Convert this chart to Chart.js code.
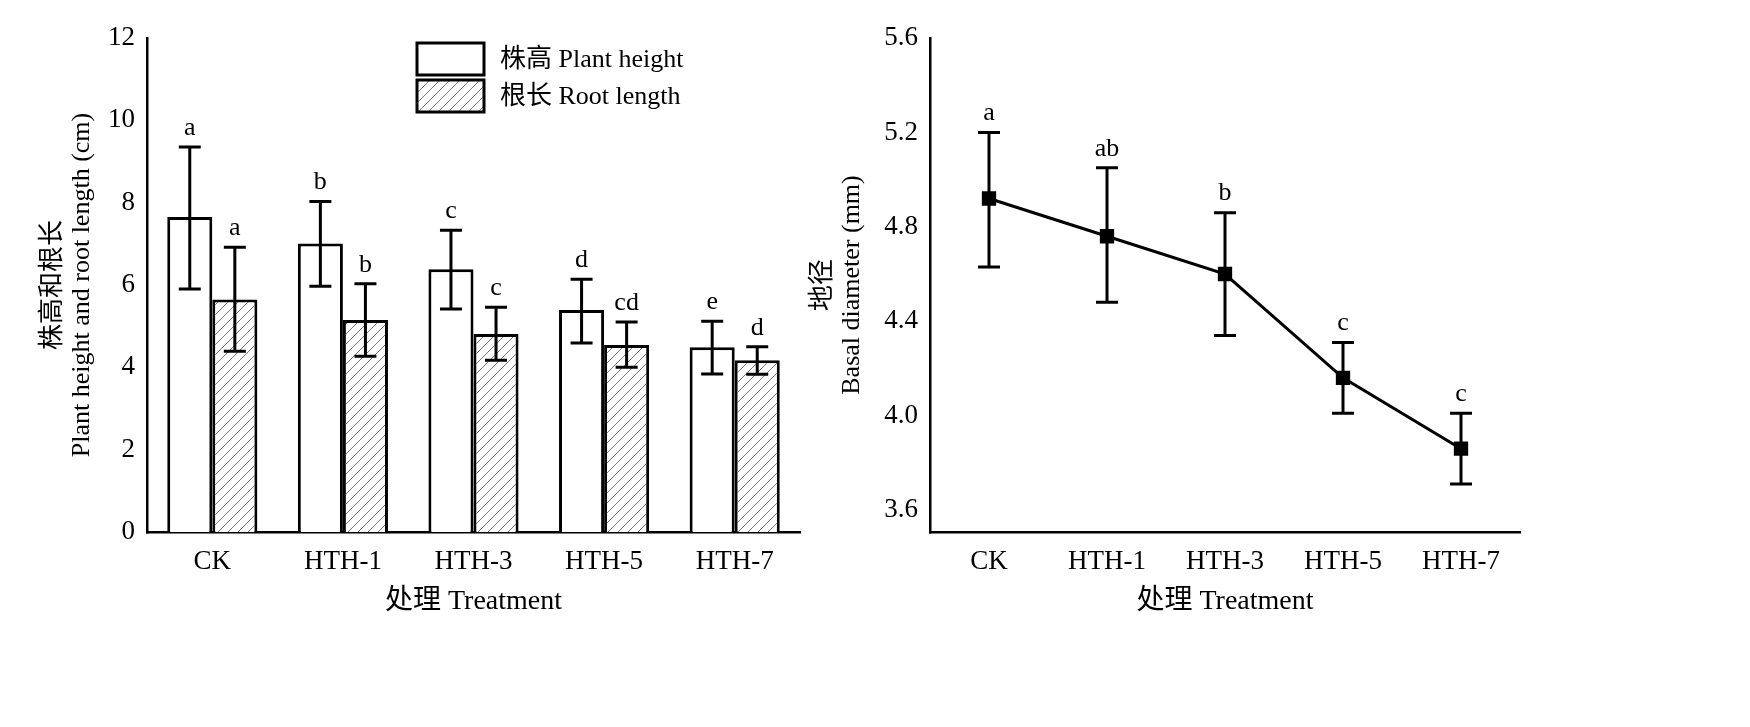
<!DOCTYPE html>
<html><head><meta charset="utf-8">
<script src="https://cdn.jsdelivr.net/npm/chart.js@4"></script>
<style>body{margin:0;background:#fff;width:1750px;height:727px;position:relative;overflow:hidden}
#c1{position:absolute;left:0;top:0}#c2{position:absolute;left:790px;top:0}</style>
</head><body>
<canvas id="c1" width="830" height="727"></canvas>
<canvas id="c2" width="960" height="727"></canvas>
<script>
const categories=["CK","HTH-1","HTH-3","HTH-5","HTH-7"];
const plantHeight=[7.65,7.01,6.38,5.39,4.49];
const plantHi=[9.35,8.03,7.33,6.14,5.12];
const plantLo=[5.9,5.97,5.42,4.59,3.84];
const plantLetters=["a","b","c","d","e"];
const rootLength=[5.65,5.15,4.81,4.54,4.17];
const rootHi=[6.92,6.03,5.46,5.1,4.5];
const rootLo=[4.39,4.27,4.17,4.0,3.83];
const rootLetters=["a","b","c","cd","d"];
const diameter=[4.92,4.76,4.60,4.16,3.86];
const diaHi=[5.20,5.05,4.86,4.31,4.01];
const diaLo=[4.63,4.48,4.34,4.01,3.71];
const diaLetters=["a","ab","b","c","c"];
const leftTicks=[0,2,4,6,8,10,12];
const rightTicks=[3.6,4.0,4.4,4.8,5.2,5.6];

const SERIF="'Liberation Serif','Times New Roman',serif";
const CJK="'Liberation Serif','Noto Sans CJK SC',serif";
Chart.defaults.font.family=CJK;Chart.defaults.color="#000";

function hatch(){const p=document.createElement('canvas');p.width=10;p.height=10;const g=p.getContext('2d');
g.fillStyle='#fff';g.fillRect(0,0,10,10);g.strokeStyle='#555';g.lineWidth=0.8;
g.beginPath();g.moveTo(0,10);g.lineTo(10,0);g.moveTo(-5,5);g.lineTo(5,-5);g.moveTo(5,15);g.lineTo(15,5);g.stroke();
return document.getElementById('c1').getContext('2d').createPattern(p,'repeat');}
const hp=hatch();

const errPlugin={id:'err',afterDatasetsDraw(chart){
  const ctx=chart.ctx,y=chart.scales.y;
  chart.data.datasets.forEach((ds,di)=>{const meta=chart.getDatasetMeta(di);
    meta.data.forEach((el,i)=>{const x=el.x,hi=y.getPixelForValue(ds.hi[i]),lo=y.getPixelForValue(ds.lo[i]);
      ctx.save();ctx.strokeStyle='#000';ctx.lineWidth=3;ctx.beginPath();
      ctx.moveTo(x,hi);ctx.lineTo(x,lo);ctx.moveTo(x-11,hi);ctx.lineTo(x+11,hi);ctx.moveTo(x-11,lo);ctx.lineTo(x+11,lo);ctx.stroke();
      ctx.fillStyle='#000';ctx.font="26px "+SERIF;ctx.textAlign='center';ctx.textBaseline='bottom';
      ctx.fillText(ds.letters[i],x,hi-6);ctx.restore();});});
}};
const legendPlugin={id:'leg',afterDraw(chart){const ctx=chart.ctx;ctx.save();
  const items=[["#fff","株高 Plant height"],[hp,"根长 Root length"]];
  items.forEach((it,k)=>{const y=43+k*37;ctx.fillStyle=it[0];ctx.fillRect(417,y,67,32);
    ctx.strokeStyle='#000';ctx.lineWidth=3;ctx.strokeRect(417,y,67,32);
    ctx.fillStyle='#000';ctx.font="26px "+CJK;ctx.textBaseline='middle';ctx.fillText(it[1],500,y+17);});
  ctx.restore();}};

const axisCommon={border:{color:'#000',width:2.5},grid:{display:false,drawOnChartArea:false,tickLength:8,color:'#000',lineWidth:2.5}};

new Chart(document.getElementById('c1'),{type:'bar',
 data:{labels:categories,datasets:[
  {data:plantHeight,hi:plantHi,lo:plantLo,letters:plantLetters,backgroundColor:'#fff',borderColor:'#000',borderWidth:3,borderSkipped:'bottom'},
  {data:rootLength,hi:rootHi,lo:rootLo,letters:rootLetters,backgroundColor:hp,borderColor:'#000',borderWidth:3,borderSkipped:'bottom'}]},
 options:{responsive:false,animation:false,layout:{padding:{top:38,right:30,left:35,bottom:105}},
  datasets:{bar:{categoryPercentage:0.69,barPercentage:1}},
  plugins:{legend:{display:false},tooltip:{enabled:false}},
  scales:{
   x:{...axisCommon,grid:{display:false},ticks:{font:{size:27,family:SERIF},padding:6},
      title:{display:true,text:'处理 Treatment',font:{size:28},padding:{top:14}},
      afterFit(s){s.height=90;}},
   y:{...axisCommon,min:0,max:12,afterBuildTicks(s){s.ticks=leftTicks.map(v=>({value:v}));},
      ticks:{font:{size:27,family:SERIF},padding:4},
      title:{display:true,text:['株高和根长','Plant height and root length (cm)'],font:{size:26,lineHeight:1.1},padding:{bottom:6}},
      afterFit(s){s.width=112;}}}},
 plugins:[errPlugin,legendPlugin]});

new Chart(document.getElementById('c2'),{type:'line',
 data:{labels:categories,datasets:[{data:diameter,hi:diaHi,lo:diaLo,letters:diaLetters,borderColor:'#000',borderWidth:3,
  pointStyle:'rect',pointRadius:8,pointBackgroundColor:'#000',pointBorderColor:'#000',tension:0}]},
 options:{responsive:false,animation:false,layout:{padding:{top:38,right:230,left:15,bottom:105}},
  plugins:{legend:{display:false},tooltip:{enabled:false}},
  scales:{
   x:{...axisCommon,offset:true,grid:{display:false},ticks:{font:{size:27,family:SERIF},padding:6},
      title:{display:true,text:'处理 Treatment',font:{size:28},padding:{top:14}},
      afterFit(s){s.height=90;}},
   y:{...axisCommon,min:3.507,max:5.6,afterBuildTicks(s){s.ticks=rightTicks.map(v=>({value:v}));},
      ticks:{font:{size:27,family:SERIF},padding:4,callback:v=>Number(v).toFixed(1)},
      title:{display:true,text:['地径','Basal diameter (mm)'],font:{size:26,lineHeight:1.1},padding:{bottom:6}},
      afterFit(s){s.width=125;}}}},
 plugins:[errPlugin]});
</script></body></html>
